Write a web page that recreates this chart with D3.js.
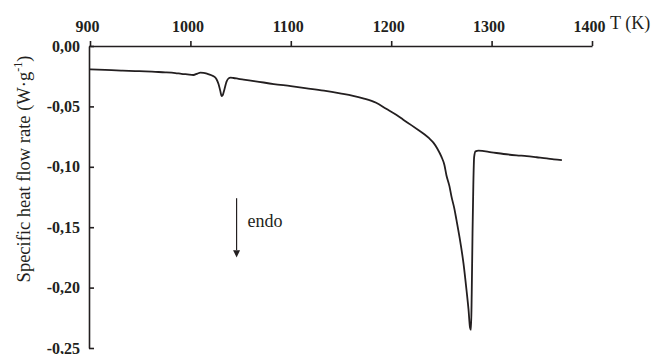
<!DOCTYPE html>
<head>
  <meta charset="utf-8">
  <style>
    body { margin: 0; background: #fff; }
    svg text { font-family: "Liberation Serif", "Times New Roman", serif; fill: #231f20; }
    .tick text { font-weight: bold; font-size: 16px; }
  </style>
</head>
<body>
  <svg width=658 height=354 id="chart"></svg>
  <script src="https://d3js.org/d3.v7.min.js"></script>
  <script>
    // temperature (K) and specific heat flow rate (W/g)
    const temps = [900, 915, 931, 945, 955, 965, 975, 985, 991, 997, 1003, 1007, 1010, 1013, 1017, 1021, 1024,
      1026, 1028, 1030, 1031, 1032, 1034, 1036, 1038, 1040, 1043, 1048, 1053, 1065, 1083, 1100, 1116, 1133,
      1149, 1162, 1172, 1185, 1195, 1205, 1212, 1220, 1227, 1233, 1238, 1242, 1246, 1250, 1253, 1255, 1258,
      1260, 1263, 1265, 1268, 1272, 1275, 1277, 1278.5, 1279.5, 1280.2, 1281, 1281.8, 1282.6, 1284, 1287,
      1300, 1312, 1325, 1335, 1345, 1355, 1362, 1370];
    const flow = [-0.0193, -0.0198, -0.0204, -0.0208, -0.0210, -0.0214, -0.0218, -0.0224, -0.0230, -0.0235,
      -0.0240, -0.0228, -0.0221, -0.0222, -0.0230, -0.0242, -0.0255,
      -0.0275, -0.0315, -0.0380, -0.0415, -0.0410, -0.0355, -0.0295, -0.0268, -0.0262, -0.0265, -0.0272,
      -0.0278, -0.0292, -0.0315, -0.0332, -0.0350, -0.0370,
      -0.0392, -0.0412, -0.0433, -0.0470, -0.0520, -0.0570, -0.0610, -0.0655, -0.0695, -0.0730, -0.0765,
      -0.0800, -0.0850, -0.0916, -0.0985, -0.1070, -0.1160,
      -0.1245, -0.1350, -0.1440, -0.1580, -0.1800, -0.2020, -0.2180, -0.2330, -0.2350, -0.2050, -0.1550,
      -0.1150, -0.0920, -0.0872, -0.0866,
      -0.0880, -0.0894, -0.0905, -0.0912, -0.0921, -0.0930, -0.0938, -0.0944];
    const xTicks = [900, 1000, 1100, 1200, 1300, 1400];
    const yTicks = [0, -0.05, -0.10, -0.15, -0.20, -0.25];

    const data = temps.map((t, i) => ({t: t, v: flow[i]}));

    const svg = d3.select("#chart");
    const x = d3.scaleLinear().domain([900, 1400]).range([90, 592]);
    const y = d3.scaleLinear().domain([0, -0.25]).range([46, 348]);
    const fmt = d => d3.format(".2f")(d).replace(".", ",").replace("−", "-");

    const xAxis = svg.append("g")
        .attr("transform", "translate(0," + y(0) + ")")
        .call(d3.axisTop(x).tickValues(xTicks).tickSize(5).tickSizeOuter(0).tickPadding(9).tickFormat(d3.format("d")));
    xAxis.selectAll(".tick text").attr("dx", -3);

    const yAxis = svg.append("g")
        .attr("transform", "translate(" + (x(900) - 1) + ",0)")
        .call(d3.axisLeft(y).tickValues(yTicks).tickSize(-5).tickSizeOuter(0).tickPadding(9).tickFormat(fmt));

    svg.selectAll(".domain, .tick line").attr("stroke", "#231f20").attr("stroke-width", 1.6);
    svg.selectAll(".tick text").attr("fill", "#231f20");

    svg.append("text")
        .attr("x", x(1400) + 18)
        .attr("y", 29)
        .style("font-size", "18px")
        .text("T (K)");

    const title = svg.append("text")
        .attr("transform", "translate(30," + 169 + ") rotate(-90)")
        .attr("text-anchor", "middle")
        .style("font-size", "18.5px");
    title.append("tspan").text("Specific heat flow rate (W·g");
    title.append("tspan").attr("dy", -8).style("font-size", "12px").text("-1");
    title.append("tspan").attr("dy", 8).text(")");

    svg.append("path")
        .datum(data)
        .attr("fill", "none")
        .attr("stroke", "#231f20")
        .attr("stroke-width", 1.8)
        .attr("stroke-linejoin", "round")
        .attr("d", d3.line().x(d => x(d.t)).y(d => y(d.v)).curve(d3.curveMonotoneX));

    // endo arrow
    const ax = x(1046);
    svg.append("line")
        .attr("x1", ax).attr("x2", ax)
        .attr("y1", y(-0.126)).attr("y2", y(-0.169))
        .attr("stroke", "#231f20")
        .attr("stroke-width", 1.2);
    svg.append("path")
        .attr("d", d3.line()([[ax - 3.5, y(-0.169)], [ax + 3.5, y(-0.169)], [ax, y(-0.175)]]) + "Z")
        .attr("fill", "#231f20");
    svg.append("text")
        .attr("x", ax + 11)
        .attr("y", y(-0.1495))
        .style("font-size", "18px")
        .text("endo");
  </script>
</body>
